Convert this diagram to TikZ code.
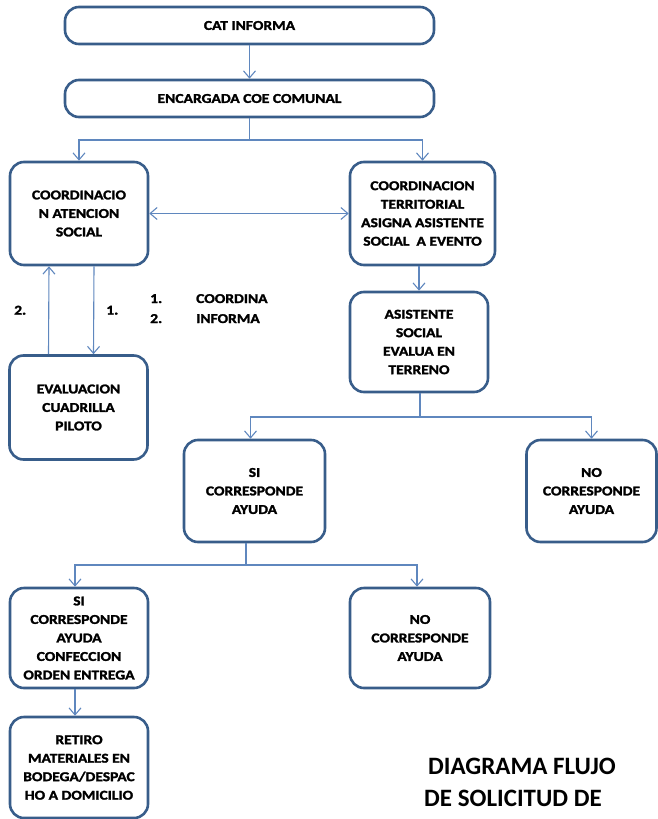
\documentclass[tikz,border=0pt]{standalone}
\usepackage{fontspec}
\setmainfont{Carlito}
\newfontfamily\cajafont{Carlito}[FakeStretch=1.15, BoldFeatures={FakeBold=1.8}]
\usetikzlibrary{arrows.meta}
\definecolor{borde}{RGB}{56,93,138}
\definecolor{flechazul}{RGB}{95,135,190}
\tikzset{
	caja/.style={draw=borde, line width=2.6pt, rounded corners=14pt, fill=white, align=center, inner sep=1pt, font=\cajafont\bfseries\fontsize{13.5}{18.5}\selectfont},
	linea/.style={draw=flechazul, line width=1.1pt},
	flecha/.style={linea, -{Straight Barb[length=7pt,width=12pt]}},
	texto/.style={font=\cajafont\bfseries\fontsize{13.5}{18.5}\selectfont, inner sep=0pt}
}

\begin{document}
\begin{tikzpicture}[x=1pt, y=-1pt]
		\useasboundingbox (0,0) rectangle (658,819);
		% cajas
		\node[caja, minimum width=369pt, minimum height=37pt] (cat) at (249.5,25.5) {CAT INFORMA};
		\node[caja, minimum width=369pt, minimum height=37pt] (coe) at (249.5,98.5) {ENCARGADA COE COMUNAL};
		\node[caja, minimum width=138pt, minimum height=103pt] (atencion) at (79,213.5) {COORDINACIO\\N ATENCION\\SOCIAL};
		\node[caja, minimum width=145pt, minimum height=103pt] (territorial) at (422.5,213.5) {COORDINACION\\TERRITORIAL\\ASIGNA ASISTENTE\\SOCIAL \ A EVENTO};
		\node[caja, minimum width=138pt, minimum height=104pt] (cuadrilla) at (78.5,407.5) {EVALUACION\\CUADRILLA\\PILOTO};
		\node[caja, minimum width=138pt, minimum height=100pt] (asistente) at (419,342) {ASISTENTE\\SOCIAL\\EVALUA EN\\TERRENO};
		\node[caja, minimum width=141pt, minimum height=102pt] (siayuda) at (254.5,491) {SI\\CORRESPONDE\\AYUDA};
		\node[caja, minimum width=130pt, minimum height=102pt] (noayuda) at (591.5,491) {NO\\CORRESPONDE\\AYUDA};
		\node[caja, minimum width=138pt, minimum height=100pt] (confeccion) at (79,638) {SI\\CORRESPONDE\\AYUDA\\CONFECCION\\ORDEN ENTREGA};
		\node[caja, minimum width=140pt, minimum height=100pt] (noayudados) at (420,638) {NO\\CORRESPONDE\\AYUDA};
		\node[caja, minimum width=138pt, minimum height=101pt] (retiro) at (79,767.5) {RETIRO\\MATERIALES EN\\BODEGA/DESPAC\\HO A DOMICILIO};
		% conectores
		\draw[flecha] (cat) -- (coe);
		\coordinate (f1) at (249.5,140);
		\draw[linea] (coe) -- (f1);
		\draw[flecha] (f1) -| (atencion.north);
		\draw[flecha] (f1) -| (territorial.north);
		\draw[flecha, {Straight Barb[length=7pt,width=12pt]}-{Straight Barb[length=7pt,width=12pt]}] (atencion) -- (territorial);
		\draw[flecha] (asistente.north |- territorial.south) -- (asistente.north);
		\draw[flecha] ([xshift=-30pt]cuadrilla.north) -- ([xshift=-30pt]atencion.south) node[midway, left=22pt, texto] (dos) {2.};
		\draw[flecha] ([xshift=15pt]atencion.south) -- ([xshift=15pt]cuadrilla.north) node[midway, right=12pt, texto] (uno) {1.};
		\coordinate (f2) at (420,417);
		\draw[linea] ([xshift=1pt]asistente.south) -- (f2);
		\draw[flecha] (f2) -| ([xshift=-4pt]siayuda.north);
		\draw[flecha] (f2) -| (noayuda.north);
		\coordinate (f3) at (246,565);
		\draw[linea] (f3 |- siayuda.south) -- (f3);
		\draw[flecha] (f3) -| ([xshift=-4pt]confeccion.north);
		\draw[flecha] (f3) -| ([xshift=-3pt]noayudados.north);
		\draw[flecha] ([xshift=-4pt]confeccion.south) -- ([xshift=-4pt]retiro.north);
		% leyenda
		\foreach \n/\t/\y in {1/COORDINA/299, 2/INFORMA/319}{
			\node[texto, anchor=base west] (num\n) at (150,\y+4) {\n.};
			\node[texto, anchor=base west] (ley\n) at (196,\y+4) {\t};
		}
		% titulo
		\node[anchor=base, font=\bfseries\fontsize{25}{32}\selectfont, inner sep=0pt] (titulo1) at (522,774) {DIAGRAMA FLUJO};
		\node[anchor=base, font=\bfseries\fontsize{25}{32}\selectfont, inner sep=0pt] (titulo2) at (513,806) {DE SOLICITUD DE};
	\end{tikzpicture}
\end{document}
